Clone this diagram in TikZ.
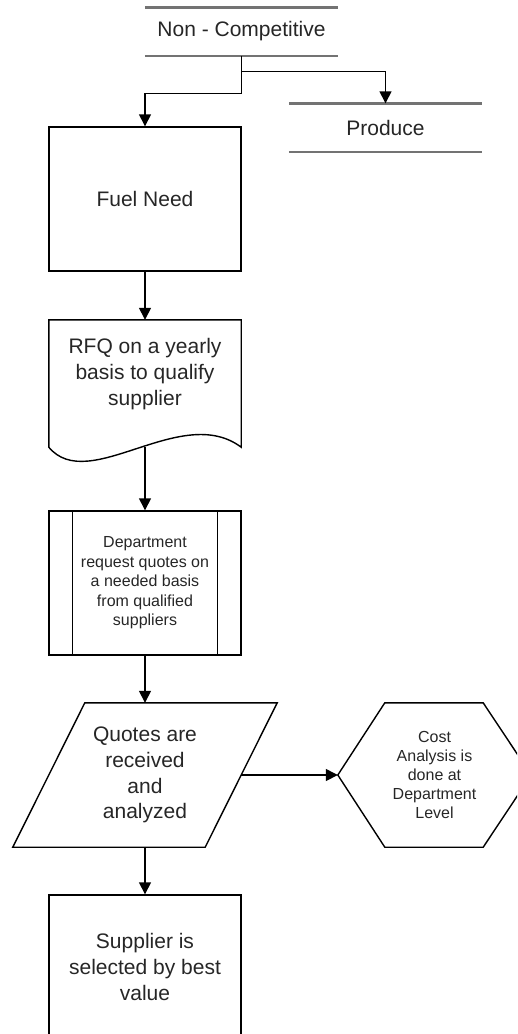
\documentclass[tikz,border=0pt]{standalone}
\usepackage{fontspec}
\setmainfont{Liberation Sans}
\usetikzlibrary{arrows.meta,calc}
\begin{document}
\begin{tikzpicture}[x=1pt,y=-1pt,
  flow/.style={-{Triangle[width=12pt,length=12pt]}, line width=1.4pt},
  outline/.style={line width=1.4pt, draw=black, line join=miter},
  slot/.style={minimum width=192pt, minimum height=144pt, inner sep=0pt},
  procbox/.style={slot, outline},
  bigtxt/.style={font=\fontsize{21}{25.7}\selectfont, text=black!85, align=center},
  smalltxt/.style={font=\fontsize{16}{19.5}\selectfont, text=black!85, align=center},
  storeline/.style={line width=2.4pt, draw=black!55},
  datastore/.style={bigtxt, minimum width=193pt, minimum height=48pt, inner sep=0pt},
]
\useasboundingbox (0,0) rectangle (517,1034);
\clip (0,0) rectangle (517,1034);

% data stores: two horizontal rules each
\node[datastore] (nc) at (241.5,31.5) {Non - Competitive};
\draw[storeline] (nc.north west) -- (nc.north east) (nc.south west) -- (nc.south east);
\node[datastore] (prod) at (385.5,127.5) {Produce};
\draw[storeline] (prod.north west) -- (prod.north east) (prod.south west) -- (prod.south east);

% process box
\node[procbox, bigtxt] (fuel) at (145,199) {Fuel Need};

% document shape with wavy bottom
\node[minimum width=192pt, minimum height=127pt, inner sep=0pt,
      label={[bigtxt, yshift=9.5pt]center:RFQ on a yearly\\basis to qualify\\supplier}] (rfq) at (145,383.5) {};
\draw[outline] (rfq.south west) -- (rfq.north west) -- (rfq.north east) -- (rfq.south east)
  .. controls ($(rfq.south east)+(-60,-45)$) and ($(rfq.south west)+(40,48)$) .. (rfq.south west) -- cycle;

% predefined process
\node[procbox, smalltxt] (dept) at (145,583) {Department\\request quotes on\\a needed basis\\from qualified\\suppliers};
\draw[outline] ([xshift=24pt]dept.north west) -- ([xshift=24pt]dept.south west)
               ([xshift=-24pt]dept.north east) -- ([xshift=-24pt]dept.south east);

% data (parallelogram)
\node[slot, bigtxt] (quotes) at (145,775) {Quotes are\\received\\and\\analyzed};
\draw[outline] ($(quotes.north west)+(36,0)$) -- ($(quotes.north east)+(36,0)$)
  -- ($(quotes.south east)+(-36,0)$) -- ($(quotes.south west)+(-36,0)$) -- cycle;

% preparation (hexagon)
\node[slot, minimum width=193pt, smalltxt, font=\fontsize{16}{19}\selectfont] (cost) at (434.5,775) {Cost\\Analysis is\\done at\\Department\\Level};
\draw[outline] (cost.west) -- ($(cost.north west)+(47,0)$) -- ($(cost.north east)+(-48,0)$)
  -- (cost.east) -- ($(cost.south east)+(-48,0)$) -- ($(cost.south west)+(47,0)$) -- cycle;

% final process box
\node[procbox, bigtxt] (select) at (145,967) {Supplier is\\selected by best\\value};

% connectors
\coordinate (split) at ($(nc.south)+(0,16)$);
\draw[flow] (nc.south) -- ++(0,38) -| (fuel.north);
\draw[flow] (split) -| (prod.north);
\draw[flow] (fuel.south) -- (rfq.north);
\draw[flow] (rfq.south) -- (dept.north);
\draw[flow] (dept.south) -- (quotes.north);
\draw[flow] (quotes.east) -- (cost.west);
\draw[flow] (quotes.south) -- (select.north);
\end{tikzpicture}
\end{document}
